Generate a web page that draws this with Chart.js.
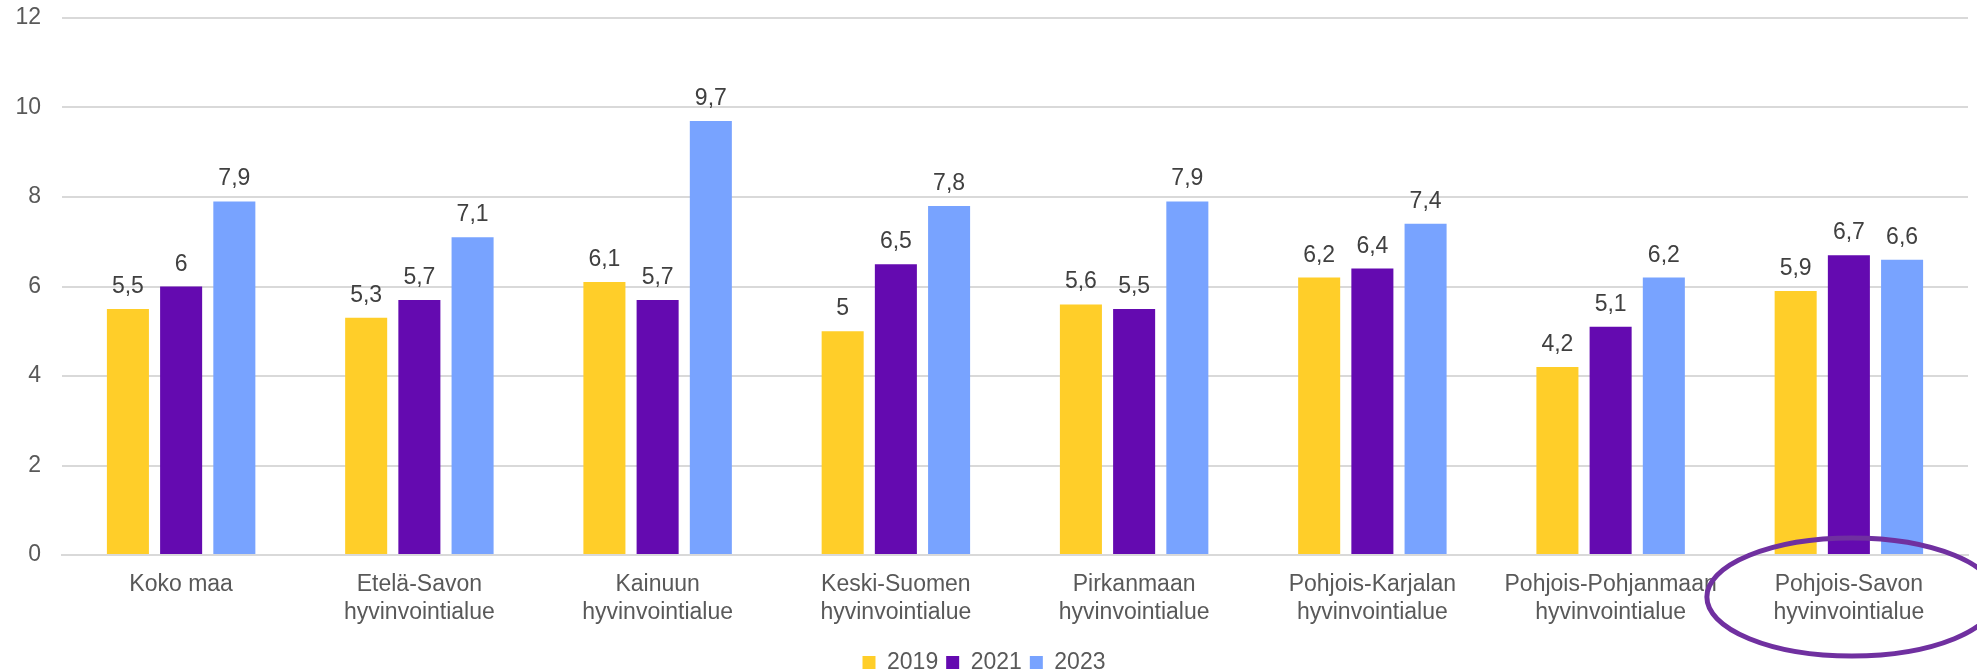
<!DOCTYPE html>
<html>
<head>
<meta charset="utf-8">
<script src="https://cdn.jsdelivr.net/npm/chart.js@4/dist/chart.umd.min.js"></script>
<style>
html,body{margin:0;padding:0;background:#fff;}
#wrap{width:1977px;height:672px;}
</style>
</head>
<body>
<div id="wrap"><canvas id="c" width="1977" height="672"></canvas></div>
<script>
const categories = [
  "Koko maa",
  ["Etelä-Savon", "hyvinvointialue"],
  ["Kainuun", "hyvinvointialue"],
  ["Keski-Suomen", "hyvinvointialue"],
  ["Pirkanmaan", "hyvinvointialue"],
  ["Pohjois-Karjalan", "hyvinvointialue"],
  ["Pohjois-Pohjanmaan", "hyvinvointialue"],
  ["Pohjois-Savon", "hyvinvointialue"]
];
const seriesNames = ["2019", "2021", "2023"];
const values2019 = [5.5, 5.3, 6.1, 5.0, 5.6, 6.2, 4.2, 5.9];
const values2021 = [6.0, 5.7, 5.7, 6.5, 5.5, 6.4, 5.1, 6.7];
const values2023 = [7.9, 7.1, 9.7, 7.8, 7.9, 7.4, 6.2, 6.6];
const yTicks = [0, 2, 4, 6, 8, 10, 12];
const highlightIndex = 7;

const colors = ["#FFCE29", "#640AB0", "#78A3FF"];
const FONT = "'Liberation Sans', Arial, sans-serif";
const textColor = "#595959";

const valueLabels = {
  id: "valueLabels",
  afterDatasetsDraw(chart) {
    const ctx = chart.ctx;
    ctx.save();
    ctx.font = "23px " + FONT;
    ctx.fillStyle = "#404040";
    ctx.textAlign = "center";
    ctx.textBaseline = "alphabetic";
    chart.data.datasets.forEach((ds, i) => {
      const meta = chart.getDatasetMeta(i);
      meta.data.forEach((bar, j) => {
        const txt = String(ds.data[j]).replace(".", ",");
        ctx.fillText(txt, bar.x, bar.y - 16);
      });
    });
    ctx.restore();
  }
};

const highlight = {
  id: "highlight",
  afterDraw(chart) {
    const xs = chart.scales.x;
    const ys = chart.scales.y;
    const cx = xs.getPixelForValue(highlightIndex) + 3;
    const cy = ys.getPixelForValue(0) + 42;
    const ctx = chart.ctx;
    ctx.save();
    ctx.strokeStyle = "#7030A0";
    ctx.lineWidth = 5;
    ctx.beginPath();
    ctx.ellipse(cx, cy, 145, 59, 0, 0, Math.PI * 2);
    ctx.stroke();
    ctx.restore();
  }
};

new Chart(document.getElementById("c"), {
  type: "bar",
  data: {
    labels: categories,
    datasets: [
      { label: seriesNames[0], data: values2019, backgroundColor: colors[0] },
      { label: seriesNames[1], data: values2021, backgroundColor: colors[1] },
      { label: seriesNames[2], data: values2023, backgroundColor: colors[2] }
    ]
  },
  options: {
    responsive: false,
    animation: false,
    devicePixelRatio: 1,
    categoryPercentage: 0.67,
    barPercentage: 0.79,
    layout: { padding: { top: 18, right: 9, left: 0, bottom: -12 } },
    plugins: {
      tooltip: { enabled: false },
      legend: {
        position: "bottom",
        labels: {
          font: { family: FONT, size: 23 },
          color: textColor,
          boxWidth: 13,
          boxHeight: 13,
          padding: 8
        }
      }
    },
    scales: {
      x: {
        grid: { display: false, drawTicks: false },
        border: { display: true, color: "#D9D9D9", width: 2 },
        ticks: {
          font: { family: FONT, size: 23, lineHeight: 1.2 },
          color: textColor,
          padding: 16,
          maxRotation: 0,
          autoSkip: false
        },
        afterFit(s) { s.height = 88; }
      },
      y: {
        min: 0,
        max: 12,
        afterBuildTicks(s) { s.ticks = yTicks.map(v => ({ value: v })); },
        grid: { color: "#D9D9D9", lineWidth: 2, drawTicks: false },
        border: { display: false },
        ticks: {
          font: { family: FONT, size: 23 },
          color: textColor,
          padding: 21
        },
        afterFit(s) { s.width = 62; s.paddingTop = 0; s.paddingBottom = 0; }
      }
    }
  },
  plugins: [valueLabels, highlight]
});
</script>
</body>
</html>
